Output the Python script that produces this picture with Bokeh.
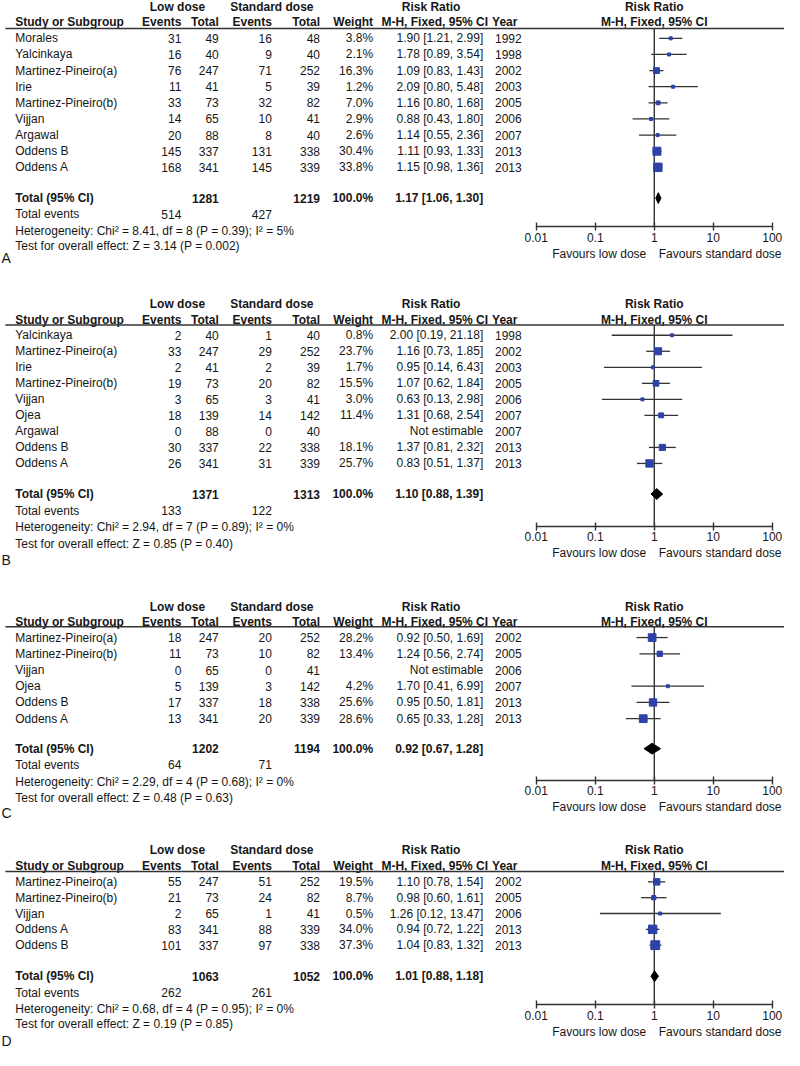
import math
from bokeh.plotting import figure
from bokeh.models import Range1d, LogAxis, FixedTicker, CustomJSTickFormatter, LogScale
from bokeh.core.properties import value
from bokeh.embed import file_html
from bokeh.resources import INLINE

# ---------------- DATA ----------------
# Panel A
study_a = ["Morales", "Yalcinkaya", "Martinez-Pineiro(a)", "Irie", "Martinez-Pineiro(b)",
           "Vijjan", "Argawal", "Oddens B", "Oddens A"]
low_events_a = [31, 16, 76, 11, 33, 14, 20, 145, 168]
low_total_a = [49, 40, 247, 41, 73, 65, 88, 337, 341]
std_events_a = [16, 9, 71, 5, 32, 10, 8, 131, 145]
std_total_a = [48, 40, 252, 39, 82, 41, 40, 338, 339]
weight_a = [3.8, 2.1, 16.3, 1.2, 7.0, 2.9, 2.6, 30.4, 33.8]
rr_a = [1.90, 1.78, 1.09, 2.09, 1.16, 0.88, 1.14, 1.11, 1.15]
lo_a = [1.21, 0.89, 0.83, 0.80, 0.80, 0.43, 0.55, 0.93, 0.98]
hi_a = [2.99, 3.54, 1.43, 5.48, 1.68, 1.80, 2.36, 1.33, 1.36]
year_a = [1992, 1998, 2002, 2003, 2005, 2006, 2007, 2013, 2013]
pooled_a = [1.17, 1.06, 1.30]
het_a = "Heterogeneity: Chi\u00b2 = 8.41, df = 8 (P = 0.39); I\u00b2 = 5%"
test_a = "Test for overall effect: Z = 3.14 (P = 0.002)"

# Panel B
study_b = ["Yalcinkaya", "Martinez-Pineiro(a)", "Irie", "Martinez-Pineiro(b)", "Vijjan",
           "Ojea", "Argawal", "Oddens B", "Oddens A"]
low_events_b = [2, 33, 2, 19, 3, 18, 0, 30, 26]
low_total_b = [40, 247, 41, 73, 65, 139, 88, 337, 341]
std_events_b = [1, 29, 2, 20, 3, 14, 0, 22, 31]
std_total_b = [40, 252, 39, 82, 41, 142, 40, 338, 339]
weight_b = [0.8, 23.7, 1.7, 15.5, 3.0, 11.4, None, 18.1, 25.7]
rr_b = [2.00, 1.16, 0.95, 1.07, 0.63, 1.31, None, 1.37, 0.83]
lo_b = [0.19, 0.73, 0.14, 0.62, 0.13, 0.68, None, 0.81, 0.51]
hi_b = [21.18, 1.85, 6.43, 1.84, 2.98, 2.54, None, 2.32, 1.37]
year_b = [1998, 2002, 2003, 2005, 2006, 2007, 2007, 2013, 2013]
pooled_b = [1.10, 0.88, 1.39]
het_b = "Heterogeneity: Chi\u00b2 = 2.94, df = 7 (P = 0.89); I\u00b2 = 0%"
test_b = "Test for overall effect: Z = 0.85 (P = 0.40)"

# Panel C
study_c = ["Martinez-Pineiro(a)", "Martinez-Pineiro(b)", "Vijjan", "Ojea", "Oddens B", "Oddens A"]
low_events_c = [18, 11, 0, 5, 17, 13]
low_total_c = [247, 73, 65, 139, 337, 341]
std_events_c = [20, 10, 0, 3, 18, 20]
std_total_c = [252, 82, 41, 142, 338, 339]
weight_c = [28.2, 13.4, None, 4.2, 25.6, 28.6]
rr_c = [0.92, 1.24, None, 1.70, 0.95, 0.65]
lo_c = [0.50, 0.56, None, 0.41, 0.50, 0.33]
hi_c = [1.69, 2.74, None, 6.99, 1.81, 1.28]
year_c = [2002, 2005, 2006, 2007, 2013, 2013]
pooled_c = [0.92, 0.67, 1.28]
het_c = "Heterogeneity: Chi\u00b2 = 2.29, df = 4 (P = 0.68); I\u00b2 = 0%"
test_c = "Test for overall effect: Z = 0.48 (P = 0.63)"

# Panel D
study_d = ["Martinez-Pineiro(a)", "Martinez-Pineiro(b)", "Vijjan", "Oddens A", "Oddens B"]
low_events_d = [55, 21, 2, 83, 101]
low_total_d = [247, 73, 65, 341, 337]
std_events_d = [51, 24, 1, 88, 97]
std_total_d = [252, 82, 41, 339, 338]
weight_d = [19.5, 8.7, 0.5, 34.0, 37.3]
rr_d = [1.10, 0.98, 1.26, 0.94, 1.04]
lo_d = [0.78, 0.60, 0.12, 0.72, 0.83]
hi_d = [1.54, 1.61, 13.47, 1.22, 1.32]
year_d = [2002, 2005, 2006, 2013, 2013]
pooled_d = [1.01, 0.88, 1.18]
het_d = "Heterogeneity: Chi\u00b2 = 0.68, df = 4 (P = 0.95); I\u00b2 = 0%"
test_d = "Test for overall effect: Z = 0.19 (P = 0.85)"

axis_ticks = [0.01, 0.1, 1, 10, 100]
fav_labels = ["Favours low dose", "Favours standard dose"]

# ---------------- LAYOUT / STYLE ----------------
FONT = "Liberation Sans"
TXT = "#161616"
LINE = "#333333"
BLUE = "#2c42a8"
FS = "12px"

W, H = 784, 1048
YB = 1066.0                 # reference height
S = H / YB
XR = W / S                  # reference width covered


def ref_log(x):
    # reference x (px) -> log10(risk ratio); 0.01 at x=545, one decade = 60 px
    return -2 + (x - 545) / 60.0


RR_LO = 10 ** ref_log(0)
RR_HI = 10 ** ref_log(XR)
FAV_POS = [10 ** ref_log(609), 10 ** ref_log(732)]

C_NAME, C_LE, C_LT, C_SE, C_ST, C_W, C_CI, C_YR = 15, 184, 222, 276, 325, 379, 491, 503

LAYOUTS = [
    dict(label="A", h1=7, h2=22, ul=28.5, row0=38.5, step=16.4,
         tot=201, te=217.5, het=234, test=250, lab=262, axis=230),
    dict(label="B", h1=308.5, h2=324.5, ul=330, row0=340.5, step=16.3,
         tot=502, te=519, het=536, test=552.5, lab=569, axis=535),
    dict(label="C", h1=617, h2=632, ul=637, row0=648, step=16.5,
         tot=761, te=777.5, het=795, test=811, lab=826, axis=793.3),
    dict(label="D", h1=864, h2=880.5, ul=886, row0=896.5, step=16.1,
         tot=992.5, te=1009.5, het=1025.5, test=1041.5, lab=1058, axis=1021.7),
]

p = figure(width=W, height=H, x_range=Range1d(0, XR), y_range=Range1d(YB, 0),
           extra_x_ranges={"rr": Range1d(RR_LO, RR_HI)}, extra_x_scales={"rr": LogScale()},
           output_backend="svg", toolbar_location=None, min_border=0,
           x_axis_location=None, y_axis_location=None, outline_line_color=None)
p.grid.visible = False


def txt(xs, ys, texts, align="left", bold=False, size=FS, rng="default"):
    p.text(x=xs, y=ys, text=texts, text_align=align, text_baseline="middle",
           text_font=value(FONT), text_font_size=size,
           text_font_style="bold" if bold else "normal", text_color=TXT,
           x_range_name=rng)


def panel(L, study, le, lt, se, st, wt, rr, lo, hi, yr, pooled, het, test):
    n = len(study)
    ys = [L["row0"] + L["step"] * i for i in range(n)]

    # ---- table part ----
    txt([180, 276, 438], [L["h1"]] * 3, ["Low dose", "Standard dose", "Risk Ratio"], "center", True)
    txt([C_NAME, 500], [L["h2"]] * 2, ["Study or Subgroup", "Year"], "left", True)
    txt([C_LE, C_LT, C_SE, C_ST, C_W, 496], [L["h2"]] * 6,
        ["Events", "Total", "Events", "Total", "Weight", "M-H, Fixed, 95% CI"], "right", True)
    p.segment(x0=[5], y0=[L["ul"]], x1=[XR], y1=[L["ul"]], line_color=LINE, line_width=1.4)

    txt([C_NAME] * n, ys, study, "left")
    txt([C_LE] * n, ys, [str(v) for v in le], "right")
    txt([C_LT] * n, ys, [str(v) for v in lt], "right")
    txt([C_SE] * n, ys, [str(v) for v in se], "right")
    txt([C_ST] * n, ys, [str(v) for v in st], "right")
    txt([C_W] * n, ys, ["" if w is None else "%.1f%%" % w for w in wt], "right")
    ci = ["Not estimable" if r is None else "%.2f [%.2f, %.2f]" % (r, a, b)
          for r, a, b in zip(rr, lo, hi)]
    txt([C_CI] * n, ys, ci, "right")
    txt([C_YR] * n, ys, [str(v) for v in yr], "left")

    txt([C_NAME], [L["tot"]], ["Total (95% CI)"], "left", True)
    txt([C_LT, C_ST, C_W, C_CI], [L["tot"]] * 4,
        [str(sum(lt)), str(sum(st)), "100.0%", "%.2f [%.2f, %.2f]" % tuple(pooled)], "right", True)
    txt([C_NAME], [L["te"]], ["Total events"], "left")
    txt([C_LE, C_SE], [L["te"]] * 2, [str(sum(le)), str(sum(se))], "right")
    txt([C_NAME, C_NAME], [L["het"], L["test"]], [het, test], "left")
    txt([1], [L["lab"]], [L["label"]], "left", False, "14px")

    # ---- forest part (log scale) ----
    txt([1, 1], [L["h1"], L["h2"]], ["Risk Ratio", "M-H, Fixed, 95% CI"], "center", True, rng="rr")
    p.segment(x0=[1], y0=[L["ul"]], x1=[1], y1=[L["axis"]], line_color=LINE, line_width=1.4,
              x_range_name="rr")
    idx = [i for i in range(n) if rr[i] is not None]
    p.segment(x0=[lo[i] for i in idx], y0=[ys[i] for i in idx],
              x1=[hi[i] for i in idx], y1=[ys[i] for i in idx],
              line_color=LINE, line_width=1.3, x_range_name="rr")
    p.scatter(x=[rr[i] for i in idx], y=[ys[i] for i in idx],
              size=[max(3.0, 1.45 * math.sqrt(wt[i])) for i in idx],
              marker="square", fill_color=BLUE, line_color=BLUE, x_range_name="rr")
    pr, pl, ph = pooled
    ty = L["tot"]
    p.patch(x=[pl, pr, ph, pr], y=[ty, ty - 5.5, ty, ty + 5.5],
            fill_color="black", line_color="black", x_range_name="rr")

    ax = LogAxis(x_range_name="rr", fixed_location=L["axis"],
                 ticker=FixedTicker(ticks=axis_ticks, minor_ticks=[]),
                 formatter=CustomJSTickFormatter(code="return String(tick);"),
                 bounds=(axis_ticks[0], axis_ticks[-1]),
                 axis_line_color=LINE, axis_line_width=1.4,
                 major_tick_line_color=LINE, major_tick_line_width=1.4,
                 major_tick_in=4, major_tick_out=4, minor_tick_line_color=None,
                 major_label_standoff=2, major_label_text_font=FONT,
                 major_label_text_font_size=FS, major_label_text_color=TXT)
    p.add_layout(ax, "below")
    fav = LogAxis(x_range_name="rr", fixed_location=L["axis"],
                  ticker=FixedTicker(ticks=FAV_POS, minor_ticks=[]),
                  formatter=CustomJSTickFormatter(
                      code="return tick < 1 ? %r : %r;" % (fav_labels[0], fav_labels[1])),
                  axis_line_color=None, major_tick_line_color=None, minor_tick_line_color=None,
                  major_tick_in=0, major_tick_out=0,
                  major_label_standoff=20, major_label_text_font=FONT,
                  major_label_text_font_size=FS, major_label_text_color=TXT)
    p.add_layout(fav, "below")


panel(LAYOUTS[0], study_a, low_events_a, low_total_a, std_events_a, std_total_a, weight_a,
      rr_a, lo_a, hi_a, year_a, pooled_a, het_a, test_a)
panel(LAYOUTS[1], study_b, low_events_b, low_total_b, std_events_b, std_total_b, weight_b,
      rr_b, lo_b, hi_b, year_b, pooled_b, het_b, test_b)
panel(LAYOUTS[2], study_c, low_events_c, low_total_c, std_events_c, std_total_c, weight_c,
      rr_c, lo_c, hi_c, year_c, pooled_c, het_c, test_c)
panel(LAYOUTS[3], study_d, low_events_d, low_total_d, std_events_d, std_total_d, weight_d,
      rr_d, lo_d, hi_d, year_d, pooled_d, het_d, test_d)

open("out.html", "w").write(file_html(p, INLINE))
